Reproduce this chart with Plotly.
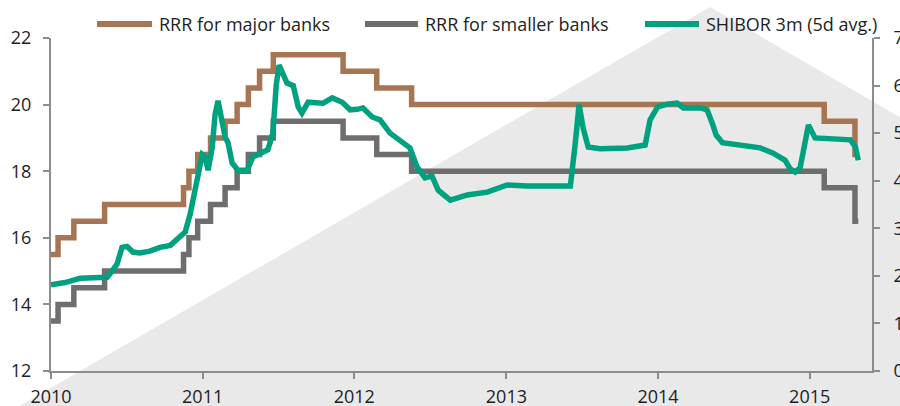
import plotly.graph_objects as go

# ---- data ----
rrr_dates = ["2010-01-01", "2010-01-18", "2010-02-25", "2010-05-10", "2010-11-16",
             "2010-11-29", "2010-12-20", "2011-01-20", "2011-02-24", "2011-03-25",
             "2011-04-21", "2011-05-18", "2011-06-20", "2011-12-05", "2012-02-24",
             "2012-05-18", "2015-02-05", "2015-04-20", "2015-04-28"]
rrr_major = [15.5, 16.0, 16.5, 17.0, 17.5, 18.0, 18.5, 19.0, 19.5, 20.0,
             20.5, 21.0, 21.5, 21.0, 20.5, 20.0, 19.5, 18.5, 18.5]
rrr_small = [13.5, 14.0, 14.5, 15.0, 15.5, 16.0, 16.5, 17.0, 17.5, 18.0,
             18.5, 19.0, 19.5, 19.0, 18.5, 18.0, 17.5, 16.5, 16.5]

shibor_dates = [
    "2010-01-01", "2010-02-04", "2010-03-12", "2010-04-17", "2010-05-16", "2010-05-28",
    "2010-06-09", "2010-06-21", "2010-07-03", "2010-07-17", "2010-08-03", "2010-08-27",
    "2010-09-20", "2010-10-15", "2010-11-03", "2010-11-20", "2010-12-02", "2010-12-16",
    "2010-12-31", "2011-01-07", "2011-01-14", "2011-01-24", "2011-01-31", "2011-02-07",
    "2011-02-14", "2011-02-24", "2011-03-03", "2011-03-13", "2011-03-27", "2011-04-18",
    "2011-05-02", "2011-05-19", "2011-06-07", "2011-06-19", "2011-06-27", "2011-07-04",
    "2011-07-14", "2011-07-23", "2011-08-07", "2011-08-19", "2011-08-28", "2011-09-12",
    "2011-10-18", "2011-11-09", "2011-12-03", "2011-12-22", "2012-01-08", "2012-01-22",
    "2012-02-13", "2012-03-03", "2012-03-27", "2012-04-28", "2012-05-14", "2012-05-31",
    "2012-06-19", "2012-07-06", "2012-07-21", "2012-08-19", "2012-09-29", "2012-11-16",
    "2013-01-03", "2013-02-20", "2013-04-16", "2013-06-04", "2013-06-16", "2013-06-25",
    "2013-07-05", "2013-07-17", "2013-08-15", "2013-10-19", "2013-12-01", "2013-12-13",
    "2013-12-31", "2014-01-23", "2014-02-16", "2014-03-03", "2014-04-13", "2014-04-29",
    "2014-05-12", "2014-05-21", "2014-06-05", "2014-07-06", "2014-08-06", "2014-09-04",
    "2014-10-05", "2014-11-03", "2014-11-15", "2014-11-27", "2014-12-09", "2014-12-21",
    "2014-12-29", "2015-01-14", "2015-02-12", "2015-04-09", "2015-04-21", "2015-04-28"]
shibor_vals = [
    1.81, 1.86, 1.95, 1.95, 1.97, 2.10,
    2.25, 2.60, 2.62, 2.50, 2.48, 2.52,
    2.60, 2.64, 2.80, 2.92, 3.30, 3.90,
    4.55, 4.50, 4.22, 4.70, 5.40, 5.68,
    5.30, 4.92, 4.80, 4.37, 4.22, 4.22,
    4.50, 4.58, 4.65, 5.00, 6.00, 6.43,
    6.25, 6.05, 6.00, 5.55, 5.42, 5.65,
    5.63, 5.74, 5.65, 5.49, 5.50, 5.53,
    5.34, 5.28, 5.00, 4.81, 4.69, 4.29,
    4.06, 4.10, 3.80, 3.59, 3.70, 3.76,
    3.91, 3.89, 3.90, 3.89, 4.80, 5.60,
    5.10, 4.71, 4.67, 4.69, 4.75, 5.28,
    5.55, 5.61, 5.63, 5.53, 5.53, 5.49,
    5.20, 4.96, 4.80, 4.76, 4.74, 4.69,
    4.58, 4.43, 4.25, 4.18, 4.27, 4.86,
    5.17, 4.90, 4.88, 4.86, 4.71, 4.43]

names = ["RRR for major banks", "RRR for smaller banks", "SHIBOR 3m (5d avg.)"]
left_ticks = [12, 14, 16, 18, 20, 22]
right_ticks = [0, 1, 2, 3, 4, 5, 6, 7]

# ---- style ----
BROWN = "#A77553"
GREY = "#6E6E6E"
GREEN = "#00A17F"
AXIS = "#8C8C8C"
TXT = "#1E1E1E"
FONT = "Open Sans"
W, H = 900, 406
L, R, T, B = 51, 28, 38, 35
PW, PH = W - L - R, H - T - B


def px(x):
    return (x - L) / PW


def py(y):
    return (H - B - y) / PH


fig = go.Figure()
fig.add_trace(go.Scatter(x=rrr_dates, y=rrr_major, mode="lines", line_shape="hv",
                         line=dict(color=BROWN, width=5.5), name=names[0], showlegend=False))
fig.add_trace(go.Scatter(x=rrr_dates, y=rrr_small, mode="lines", line_shape="hv",
                         line=dict(color=GREY, width=5.5), name=names[1], showlegend=False))
fig.add_trace(go.Scatter(x=shibor_dates, y=shibor_vals, mode="lines", yaxis="y2",
                         line=dict(color=GREEN, width=5.5), name=names[2], showlegend=False))

shapes = []
# background triangle watermark
pts = [(-60, 452), (710, 7), (960, 152), (960, 452)]
path = "M " + " L ".join(f"{px(a):.4f},{py(b):.4f}" for a, b in pts) + " Z"
shapes.append(dict(type="path", xref="paper", yref="paper", path=path,
                   fillcolor="#E9E9E9", line=dict(width=0), layer="below"))

annotations = []
legend_items = [(97, 152, 157, BROWN, names[0]), (365, 418, 423, GREY, names[1]),
                (645, 699, 704, GREEN, names[2])]
for x0, x1, xt, col, nm in legend_items:
    shapes.append(dict(type="line", xref="paper", yref="paper", x0=px(x0), x1=px(x1),
                       y0=py(24), y1=py(24), line=dict(color=col, width=6)))
    annotations.append(dict(xref="paper", yref="paper", x=px(xt), y=py(24), text=nm,
                            showarrow=False, xanchor="left", yanchor="middle",
                            font=dict(family=FONT, size=18, color=TXT)))

axis_common = dict(showline=True, linecolor=AXIS, linewidth=2, ticks="outside",
                   tickcolor=AXIS, tickwidth=1.5, ticklen=6, showgrid=False,
                   zeroline=False, automargin=False, ticklabeloverflow="allow",
                   tickfont=dict(family=FONT, size=18, color=TXT))

fig.update_layout(
    width=W, height=H,
    margin=dict(l=L, r=R, t=T, b=B, pad=0, autoexpand=False),
    paper_bgcolor="white", plot_bgcolor="rgba(0,0,0,0)",
    showlegend=False,
    xaxis=dict(range=["2010-01-01", "2015-05-31"], tickformat="%Y", dtick="M12",
               tick0="2010-01-01", ticklabelstandoff=2, **axis_common),
    yaxis=dict(range=[12, 22], tickvals=left_ticks, ticklabelstandoff=8, **axis_common),
    yaxis2=dict(range=[0, 7], tickvals=right_ticks, overlaying="y", side="right",
                ticklabelstandoff=10, **axis_common),
    shapes=shapes, annotations=annotations,
)

fig.write_html("out.html")
